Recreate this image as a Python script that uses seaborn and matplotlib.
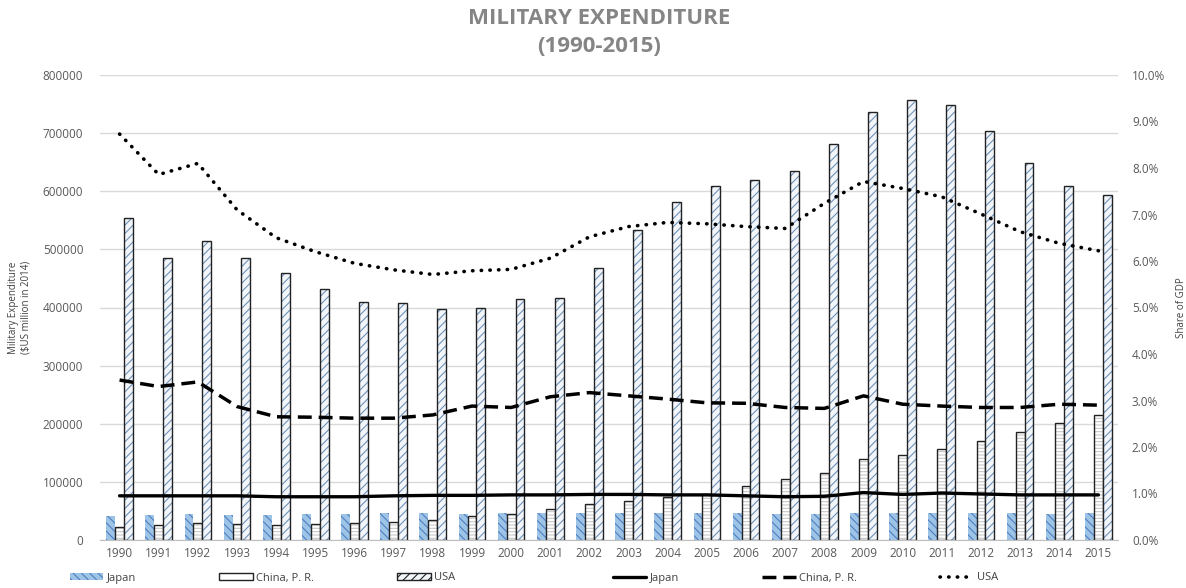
import numpy as np
import pandas as pd
import matplotlib
matplotlib.use("Agg")
import matplotlib.pyplot as plt
import seaborn as sns
from matplotlib.patches import Patch
from matplotlib.lines import Line2D
from matplotlib.ticker import PercentFormatter, MultipleLocator

# ---------------- data ----------------
years = ["1990", "1991", "1992", "1993", "1994", "1995", "1996", "1997", "1998", "1999",
         "2000", "2001", "2002", "2003", "2004", "2005", "2006", "2007", "2008", "2009",
         "2010", "2011", "2012", "2013", "2014", "2015"]

japan_exp = [42000, 43000, 45000, 43000, 43000, 45000, 45000, 46000, 46000, 45000,
             46000, 46000, 46000, 46000, 46000, 46000, 46000, 45000, 45000, 46000,
             46000, 46000, 46000, 46000, 45000, 46000]
china_exp = [23000, 25000, 30000, 28000, 26000, 28000, 29000, 31000, 34000, 41000,
             44000, 54000, 62000, 67000, 74000, 79000, 93000, 105000, 115000, 139000,
             146000, 157000, 171000, 185000, 202000, 215000]
usa_exp = [554000, 486000, 514000, 486000, 460000, 432000, 409000, 407000, 397000, 399000,
           414000, 417000, 468000, 534000, 581000, 609000, 620000, 635000, 682000, 736000,
           757000, 748000, 704000, 649000, 609000, 594000]

# share of GDP (%)
japan_gdp = [0.95, 0.95, 0.95, 0.95, 0.93, 0.93, 0.93, 0.95, 0.96, 0.96,
             0.97, 0.97, 0.98, 0.98, 0.97, 0.97, 0.95, 0.93, 0.94, 1.02,
             0.98, 1.01, 0.99, 0.97, 0.97, 0.97]
china_gdp = [3.44, 3.30, 3.40, 2.87, 2.65, 2.64, 2.62, 2.62, 2.69, 2.88,
             2.85, 3.08, 3.17, 3.10, 3.03, 2.95, 2.94, 2.85, 2.83, 3.10,
             2.92, 2.88, 2.85, 2.85, 2.92, 2.90]
usa_gdp = [8.73, 7.86, 8.10, 7.10, 6.50, 6.20, 5.95, 5.81, 5.71, 5.79,
           5.82, 6.06, 6.52, 6.74, 6.83, 6.80, 6.74, 6.70, 7.24, 7.71,
           7.56, 7.38, 7.01, 6.63, 6.38, 6.22]

countries = ["Japan", "China, P. R.", "USA"]

# ---------------- style ----------------
sns.set_style("white")
plt.rcParams['font.family'] = ['Open Sans', 'DejaVu Sans']
plt.rcParams['hatch.linewidth'] = 0.8

TXT = "#595959"
DOT = (0, (0.1, 2.3))
DASH = (0, (4, 2))

fig = plt.figure(figsize=(11.86, 5.88), dpi=100)
ax = fig.add_axes([100 / 1186, 1 - 540 / 588, (1118 - 100) / 1186, (540 - 75) / 588])

df = pd.DataFrame({
    "Year": years * 3,
    "Country": [countries[0]] * len(years) + [countries[1]] * len(years) + [countries[2]] * len(years),
    "Expenditure": japan_exp + china_exp + usa_exp,
})

fills = ["#9dc3e6", "#ffffff", "#f2f6fb"]
edges = ["#9dc3e6", "#222222", "#222222"]
hatch_cols = ["#4f7fc0", "#c8c8c8", "#7090b8"]
hatches = ["\\\\\\\\", "-----", "////"]
lws = [0, 1.0, 1.0]

sns.barplot(data=df, x="Year", y="Expenditure", hue="Country", hue_order=countries,
            palette=fills, width=0.68, saturation=1, ax=ax, legend=False, zorder=2)

for i, cont in enumerate(ax.containers):
    for bar in cont:
        bar.set_edgecolor(hatch_cols[i])
        bar.set_hatch(hatches[i])
        bar.set_linewidth(lws[i])
        bar._hatch_color = matplotlib.colors.to_rgba(hatch_cols[i])
        if lws[i] > 0:
            bar._edgecolor = matplotlib.colors.to_rgba(edges[i])

ax.set_ylim(0, 800000)
ax.set_xlim(-0.5, len(years) - 0.5)
ax.yaxis.set_major_locator(MultipleLocator(100000))
ax.yaxis.grid(True, color="#d9d9d9", lw=1)
ax.set_axisbelow(True)
for s in ["top", "left", "right"]:
    ax.spines[s].set_visible(False)
ax.spines["bottom"].set_color("#bfbfbf")
ax.tick_params(axis="both", length=0, labelsize=8.5, colors=TXT)
ax.tick_params(axis="y", pad=12)
ax.tick_params(axis="x", pad=5)
ax.set_xlabel("")
ax.set_ylabel("Military Expenditure\n(\\$US million in 2014)", fontsize=7, color="#404040",
              labelpad=8, linespacing=1.15)

# ---------------- lines (share of GDP) ----------------
ax2 = ax.twinx()
pos = np.arange(len(years))
sns.lineplot(x=pos, y=japan_gdp, ax=ax2, color="black", lw=2.4, linestyle="-")
sns.lineplot(x=pos, y=china_gdp, ax=ax2, color="black", lw=2.5, linestyle=DASH)
sns.lineplot(x=pos, y=usa_gdp, ax=ax2, color="black", lw=2.6, linestyle=DOT,
             dash_capstyle="round")
ax2.set_ylim(0, 10)
ax2.yaxis.set_major_locator(MultipleLocator(1))
ax2.yaxis.set_major_formatter(PercentFormatter(100, decimals=1))
for s in ax2.spines.values():
    s.set_visible(False)
ax2.tick_params(axis="y", length=0, labelsize=8.5, colors=TXT, pad=10)
ax2.set_ylabel("Share of GDP", fontsize=7, color="#404040", labelpad=8)
ax2.set_xlim(-0.5, len(years) - 0.5)

# ---------------- title ----------------
fig.text(0.505, 1 - 18 / 588, "MILITARY EXPENDITURE", ha="center", va="center",
         fontsize=16, fontweight="bold", color="#858585")
fig.text(0.505, 1 - 46 / 588, "(1990-2015)", ha="center", va="center",
         fontsize=16, fontweight="bold", color="#858585")

# ---------------- legends ----------------
bar_handles = [
    Patch(facecolor=fills[0], edgecolor=hatch_cols[0], hatch=hatches[0], lw=0, label=countries[0]),
    Patch(facecolor="white", edgecolor="#222222", lw=1.0, label=countries[1]),
    Patch(facecolor=fills[2], edgecolor="#222222", hatch="////", lw=1.0, label=countries[2]),
]
line_handles = [
    Line2D([], [], color="black", lw=2.4, label="Japan"),
    Line2D([], [], color="black", lw=2.5, linestyle=DASH, label="China, P. R."),
    Line2D([], [], color="black", lw=2.6, linestyle=DOT, dash_capstyle="round", label="USA"),
]
fig.legend(handles=bar_handles, loc="center left", bbox_to_anchor=(60 / 1186, 1 - 578 / 588),
           ncol=3, frameon=False, fontsize=8, handlelength=3.0, handleheight=0.6,
           handletextpad=0.3, columnspacing=7.5, labelcolor="#404040")
fig.legend(handles=line_handles, loc="center left", bbox_to_anchor=(603 / 1186, 1 - 578 / 588),
           ncol=3, frameon=False, fontsize=8, handlelength=3.0,
           handletextpad=0.3, columnspacing=7.5, labelcolor="#404040")

fig.savefig("out.png", dpi=100)
